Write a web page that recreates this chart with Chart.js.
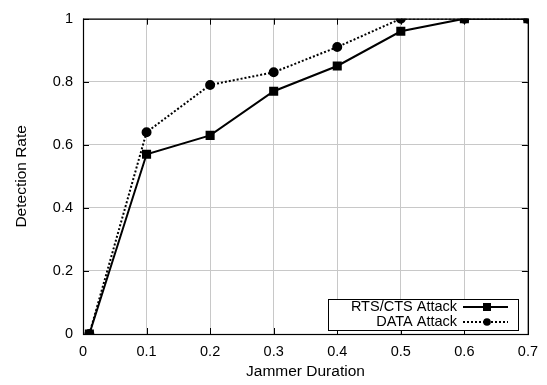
<!DOCTYPE html>
<html><head><meta charset="utf-8">
<script src="https://cdn.jsdelivr.net/npm/chart.js@4/dist/chart.umd.min.js"></script>
<style>html,body{margin:0;padding:0;background:#fff}#wrap{width:547px;height:385px}</style>
</head><body><div id="wrap"><canvas id="c" width="547" height="385"></canvas></div>
<script>
const durations = [0.01, 0.1, 0.2, 0.3, 0.4, 0.5, 0.6, 0.7];
const rtsCts = [0, 0.57, 0.63, 0.77, 0.85, 0.96, 1, 1];
const dataAttack = [0, 0.64, 0.79, 0.83, 0.91, 1, 1, 1];
const xTicks = [0, 0.1, 0.2, 0.3, 0.4, 0.5, 0.6, 0.7];
const yTicks = [0, 0.2, 0.4, 0.6, 0.8, 1];
const seriesNames = ['RTS/CTS Attack', 'DATA Attack'];
const FONT = 'Liberation Sans, Arial, sans-serif';

const pts = (ys) => durations.map((x, i) => ({x, y: ys[i]}));

const innerTicks = {
  id: 'innerTicks',
  afterDraw(chart) {
    const {ctx, chartArea: a, scales} = chart;
    ctx.save();
    ctx.strokeStyle = '#000'; ctx.lineWidth = 1;
    ctx.beginPath();
    xTicks.forEach(v => { const p = Math.round(scales.x.getPixelForValue(v)) + 0.5;
      ctx.moveTo(p, a.bottom); ctx.lineTo(p, a.bottom - 6);
      ctx.moveTo(p, a.top); ctx.lineTo(p, a.top + 6); });
    yTicks.forEach(v => { const p = Math.round(scales.y.getPixelForValue(v)) + 0.5;
      ctx.moveTo(a.left, p); ctx.lineTo(a.left + 6, p);
      ctx.moveTo(a.right, p); ctx.lineTo(a.right - 6, p); });
    ctx.stroke();
    ctx.lineWidth = 1.2;
    ctx.strokeRect(a.left + 0.5, a.top + 0.5, a.right - a.left, a.bottom - a.top);
    // legend
    const bx = 328, by = 299, bw = 190, bh = 31;
    ctx.fillStyle = '#fff'; ctx.fillRect(bx, by, bw, bh);
    ctx.lineWidth = 1; ctx.strokeStyle = '#000';
    ctx.strokeRect(bx + 0.5, by + 0.5, bw, bh);
    ctx.font = '14.5px ' + FONT; ctx.fillStyle = '#000';
    ctx.textAlign = 'right'; ctx.textBaseline = 'middle';
    chart.data.datasets.forEach((ds, i) => {
      const y = by + 8 + i * 15;
      ctx.fillText(ds.label, 457, y);
      ctx.beginPath(); ctx.setLineDash(ds.borderDash || []);
      ctx.lineWidth = 1.8; ctx.moveTo(463, y); ctx.lineTo(508, y); ctx.stroke();
      ctx.setLineDash([]);
      if (ds.pointStyle === 'rect') ctx.fillRect(487 - 4, y - 4, 8, 8);
      else { ctx.beginPath(); ctx.arc(487, y, 3.8, 0, Math.PI * 2); ctx.fill(); }
    });
    ctx.restore();
  }
};

new Chart(document.getElementById('c'), {
  type: 'scatter',
  data: { datasets: [
    { label: seriesNames[0], data: pts(rtsCts), showLine: true, borderColor: '#000', backgroundColor: '#000',
      borderWidth: 2, pointStyle: 'rect', pointRadius: 5, pointHoverRadius: 5 },
    { label: seriesNames[1], data: pts(dataAttack), showLine: true, borderColor: '#000', backgroundColor: '#000',
      borderWidth: 2, borderDash: [2, 2], pointStyle: 'circle', pointRadius: 4, pointHoverRadius: 4 }
  ]},
  options: {
    responsive: false, animation: false,
    layout: { padding: { top: 13, right: 19, left: 0, bottom: 0 } },
    plugins: { legend: { display: false }, tooltip: { enabled: false } },
    scales: {
      x: { type: 'linear', min: 0, max: 0.7,
        afterBuildTicks: s => { s.ticks = xTicks.map(v => ({value: v})); },
        afterFit: s => { s.height = 51; },
        grid: { color: '#c8c8c8', borderDash: [1, 2], drawTicks: false },
        border: { display: false },
        ticks: { color: '#000', font: { family: FONT, size: 14.5 }, padding: 9, maxRotation: 0,
          callback: v => String(v) },
        title: { display: true, text: 'Jammer Duration', color: '#000', font: { family: FONT, size: 15.5 }, padding: { top: 5 } }
      },
      y: { type: 'linear', min: 0, max: 1,
        afterBuildTicks: s => { s.ticks = yTicks.map(v => ({value: v})); },
        afterFit: s => { s.width = 83; },
        grid: { color: '#c8c8c8', borderDash: [1, 2], drawTicks: false },
        border: { display: false },
        ticks: { color: '#000', font: { family: FONT, size: 14.5 }, padding: 10, callback: v => String(v) },
        title: { display: true, text: 'Detection Rate', color: '#000', font: { family: FONT, size: 15.5 }, padding: { top: 12, bottom: 0 } }
      }
    }
  },
  plugins: [innerTicks]
});
</script></body></html>
